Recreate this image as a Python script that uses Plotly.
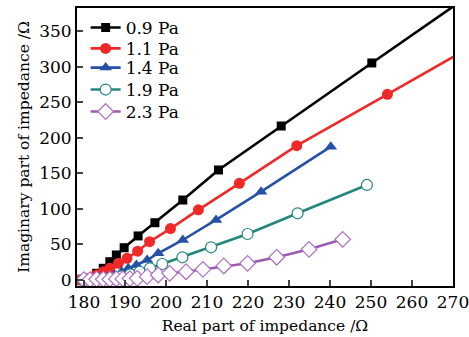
import plotly.graph_objects as go

# Data (x: real part, y: imaginary part)
x_09 = [179.5, 181.5, 183.1, 184.7, 186.3, 187.9, 189.8, 193.2, 197.3, 204.1, 212.8, 228.1, 250.2, 276]
y_09 = [0, 2.3, 9.4, 16.4, 25.7, 35.2, 45.4, 62, 80.6, 112.6, 154.9, 216.8, 305.6, 409]

x_11 = [178.8, 180.5, 182.0, 183.1, 184.7, 186.3, 188.4, 190.5, 193.1, 196.0, 201.1, 207.9, 217.9, 231.9, 254.0, 276]
y_11 = [0, 1.5, 4, 7, 11.6, 16.4, 23.5, 30.5, 40.5, 53.9, 72.4, 98.8, 136.1, 189.1, 261.5, 333.7]

x_14 = [180.5, 182.5, 184.3, 185.9, 187.5, 189.2, 190.8, 192.8, 195.4, 198.1, 204.1, 212.2, 223.2, 240.2]
y_14 = [-0.5, 0.5, 2, 4, 7, 11.6, 16.4, 21.1, 28.1, 37.6, 56.3, 84.5, 124.3, 187.7]

x_19 = [179.8, 184.0, 186.5, 189.0, 191.3, 193.6, 196.1, 199.1, 204.0, 211.0, 219.9, 232.1, 249.0]
y_19 = [0, 1.5, 3, 5, 8, 11.6, 16.4, 22.5, 31.9, 46, 64.7, 93.9, 133.8]

x_23 = [180.0, 181.5, 183.1, 184.7, 186.3, 187.9, 189.5, 191.2, 193.0, 195.4, 198.1, 200.9, 204.9, 209.0, 214.1, 219.9, 227.0, 234.9, 243.1]
y_23 = [0.5, 0.5, 1, 1, 1, 1.5, 1.5, 2, 2.3, 4.6, 7, 9.4, 11.6, 15, 19.7, 23.5, 32, 43.2, 57.3]

x_ticks = [180, 190, 200, 210, 220, 230, 240, 250, 260, 270]
y_ticks = [0, 50, 100, 150, 200, 250, 300, 350]

series = [
    ("0.9 Pa", x_09, y_09, "#000000", dict(symbol="square", size=9, color="#000000")),
    ("1.1 Pa", x_11, y_11, "#f02828", dict(symbol="circle", size=11, color="#f02828")),
    ("1.4 Pa", x_14, y_14, "#2552a8", dict(symbol="triangle-up", size=11, color="#2552a8")),
    ("1.9 Pa", x_19, y_19, "#23877c", dict(symbol="circle", size=11, color="white", line=dict(width=1.2, color="#23877c"))),
    ("2.3 Pa", x_23, y_23, "#9c5ab0", dict(symbol="diamond", size=12, color="white", line=dict(width=1.2, color="#b070c4"))),
]

legend_ids = ["legend", "legend2", "legend3", "legend4", "legend5"]
legend_y = [0.928, 0.853, 0.784, 0.705, 0.626]

font = dict(family="DejaVu Serif", size=17, color="#000000")
title_font = dict(family="DejaVu Serif", size=15.5, color="#000000")

fig = go.Figure()
for (name, xs, ys, col, mk), lid in zip(series, legend_ids):
    fig.add_trace(go.Scatter(x=xs, y=ys, name=name, mode="lines+markers", legend=lid,
                             line=dict(color=col, width=2.6), marker=mk))

legend_layout = {}
for lid, ly in zip(legend_ids, legend_y):
    legend_layout[lid] = dict(x=0.023, y=ly, xanchor="left", yanchor="middle",
                              bgcolor="rgba(0,0,0,0)", font=font, itemwidth=30)

fig.update_layout(
    width=469, height=337,
    margin=dict(l=77, r=16, t=8, b=51),
    paper_bgcolor="white", plot_bgcolor="white",
    font=font,
    showlegend=True,
    xaxis=dict(range=[178.3, 270], tickvals=x_ticks, ticks="inside", ticklen=6, tickwidth=2,
               showline=True, linecolor="black", linewidth=2, mirror=True, showgrid=False,
               zeroline=False, automargin=False, ticklabeloverflow="allow",
               title=dict(text="Real part of impedance /Ω", standoff=9, font=title_font),
               tickfont=font),
    yaxis=dict(range=[-8.5, 383], tickvals=y_ticks, ticks="inside", ticklen=6, tickwidth=2,
               showline=True, linecolor="black", linewidth=2, mirror=True, showgrid=False,
               zeroline=False, automargin=False, ticklabeloverflow="allow",
               title=dict(text="Imaginary part of impedance /Ω", standoff=6, font=title_font),
               tickfont=font),
    **legend_layout,
)

fig.write_html("out.html", config={"displayModeBar": False},
               post_script="document.body.style.margin='0';document.body.style.overflow='hidden';")
